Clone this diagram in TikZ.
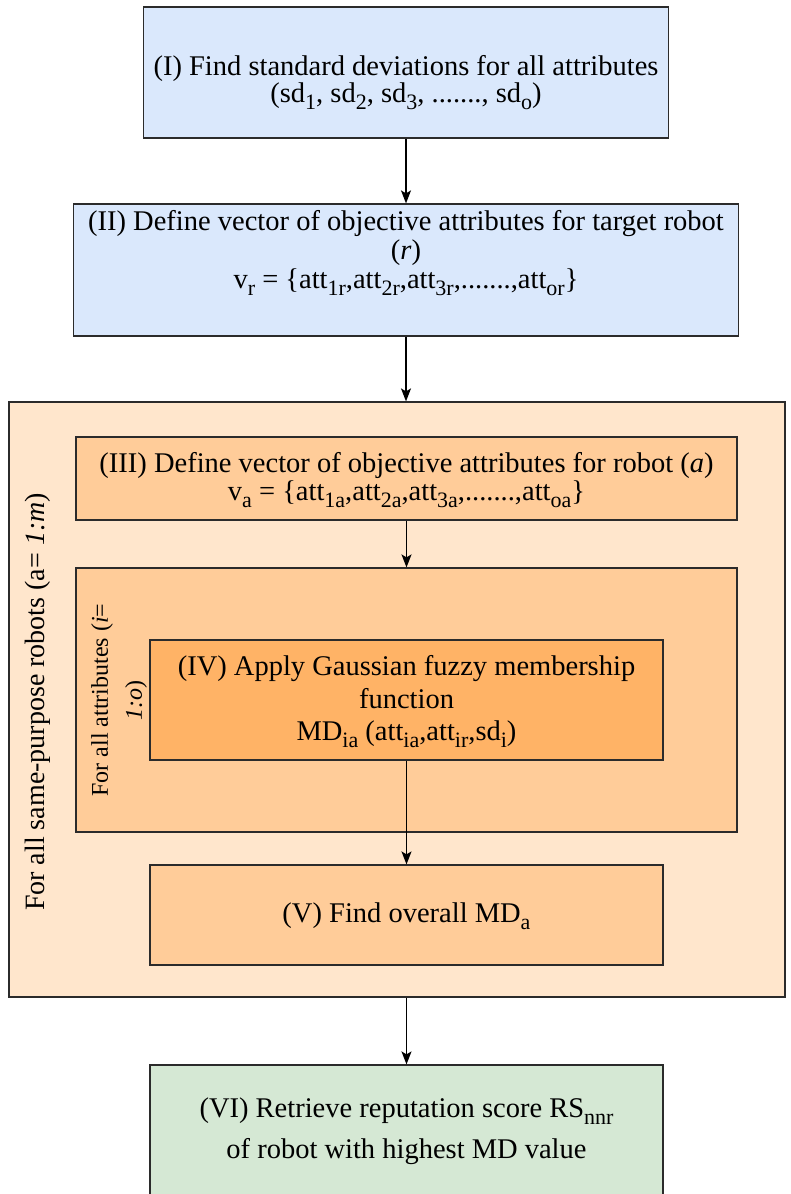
\documentclass[tikz,border=0pt]{standalone}
\usepackage{fontspec}
\setmainfont{Liberation Serif}
\usetikzlibrary{arrows.meta}
\definecolor{blueFill}{HTML}{DAE8FC}
\definecolor{greenFill}{HTML}{D5E8D4}
\definecolor{peachFill}{HTML}{FFE6CC}
\definecolor{orangeFill}{HTML}{FFCC99}
\definecolor{deepOrange}{HTML}{FFB366}
\definecolor{edgeGray}{HTML}{2B2B2B}
% lowered, slightly reduced subscript
\newcommand{\sub}[1]{\raisebox{-0.24em}{\fontsize{22}{22}\selectfont #1}}
\tikzset{
  box/.style={rectangle, draw=edgeGray, line width=1.2pt, inner sep=0pt},
  txt/.style={align=center, inner sep=0pt},
  arr/.style={draw=black, line width=1.4pt, -{Stealth[length=13pt,width=10pt,inset=3pt]}},
  sidelabel/.style={rotate=90, align=center, inner sep=0pt}
}
\newcommand{\bodyfont}[1]{\fontsize{28.5}{#1}\selectfont}
\begin{document}
\begin{tikzpicture}[x=1pt,y=-1pt]
\useasboundingbox (0,0) rectangle (790,1194);
\begin{scope}
\clip (0,0) rectangle (790,1194);

% step I
\node[box, fill=blueFill, minimum width=525pt, minimum height=131pt] (n1) at (406,72.5) {};
\node[txt, font=\bodyfont{27}] (t1) at (406,82.5)
  {(I) Find standard deviations for all attributes\\
   (sd\sub{1}, sd\sub{2}, sd\sub{3}, ......., sd\sub{o})};

% step II
\node[box, fill=blueFill, minimum width=665pt, minimum height=132pt] (n2) at (406,270) {};
\node[txt, font=\bodyfont{29}] (t2) at (406,253)
  {(II) Define vector of objective attributes for target robot\\
   (\textit{r})\\
   v\sub{r} = \{att\sub{1r},att\sub{2r},att\sub{3r},.......,att\sub{or}\}};

% outer loop over robots
\node[box, fill=peachFill, minimum width=776pt, minimum height=595pt] (cont) at (397,699.5) {};
\node[sidelabel, font=\fontsize{28}{32}\selectfont] (contlab) at (38,702)
  {For all same-purpose robots (a= \textit{1:m})};

% step III
\node[box, fill=orangeFill, minimum width=661pt, minimum height=83pt] (n3) at (406.5,478.5) {};
\node[txt, font=\bodyfont{28}] (t3) at (406.5,480)
  {(III) Define vector of objective attributes for robot (\textit{a})\\
   v\sub{a} = \{att\sub{1a},att\sub{2a},att\sub{3a},.......,att\sub{oa}\}};

% inner loop over attributes
\node[box, fill=orangeFill, minimum width=661pt, minimum height=264pt] (loop) at (406.5,700) {};
\node[sidelabel, font=\fontsize{24}{34}\selectfont] (looplab) at (119,700)
  {For all attributes (\textit{i}=\\ \textit{1:o})};

% step IV
\node[box, fill=deepOrange, minimum width=513pt, minimum height=120pt] (n4) at (406.5,700) {};
\node[txt, font=\bodyfont{32.5}] (t4) at (406.5,701.5)
  {(IV) Apply Gaussian fuzzy membership\\
   function\\
   MD\sub{ia} (att\sub{ia},att\sub{ir},sd\sub{i})};

% step V
\node[box, fill=orangeFill, minimum width=513pt, minimum height=100pt] (n5) at (406.5,915) {};
\node[txt, font=\bodyfont{30}] (t5) at (406.5,916)
  {(V) Find overall MD\sub{a}};

% step VI
\node[box, fill=greenFill, minimum width=513pt, minimum height=131pt] (n6) at (406.5,1130.5) {};
\node[txt, font=\bodyfont{41}] (t6) at (406.5,1131.5)
  {(VI) Retrieve reputation score RS\sub{nnr}\\
   of robot with highest MD value};

% connectors
\draw[arr] (n1.south) -- (n2.north);
\draw[arr] (n2.south) -- (n2.south |- cont.north);
\draw[arr] (n3.south) -- (loop.north);
\draw[arr] (n4.south) -- (n5.north);
\draw[arr] (n6.north |- cont.south) -- (n6.north);
\end{scope}
\end{tikzpicture}
\end{document}
